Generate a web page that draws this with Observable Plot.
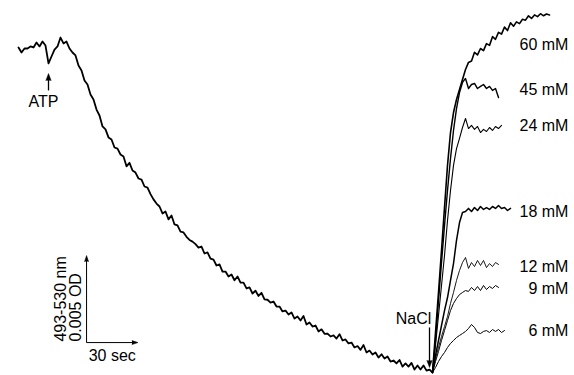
<!DOCTYPE html>
<html>
<head>
<meta charset="utf-8">
<script src="https://cdn.jsdelivr.net/npm/d3@7"></script>
<script src="https://cdn.jsdelivr.net/npm/@observablehq/plot@0.6"></script>
<style>
  html, body { margin: 0; padding: 0; background: #fff; overflow: hidden; }
  #chart svg { display: block; }
</style>
</head>
<body>
<div id="chart"></div>
<script>
// ---- data (time in s, absorbance change in mOD, 493-530 nm) ----
const sampleInterval = 1.75;   // s between samples
const naclTime = 241.5;        // s, NaCl addition (trace minimum)
const atpTime = 17.5;          // s, ATP addition

// trace after ATP until NaCl addition
const baseline = [18.68, 18.39, 18.62, 18.62, 18.74, 18.68, 18.97, 18.74, 19.02, 18.79,
  17.76, 18.16, 18.56, 18.74, 19.25, 18.91, 19.02, 18.62, 18.39, 18.22,
  17.64, 17.36, 16.78, 16.55, 15.98, 15.69, 15.11, 14.77, 14.14, 13.97,
  13.51, 13.39, 12.93, 12.87, 12.53, 12.41, 11.85, 12.05, 11.61, 11.49,
  11.15, 11.09, 10.69, 10.63, 10.25, 9.95, 9.71, 9.54, 9.14, 9.25,
  8.80, 9.02, 8.51, 8.45, 8.10, 8.05, 7.80, 7.62, 7.52, 7.38,
  7.18, 7.24, 6.84, 6.90, 6.55, 6.49, 6.15, 6.21, 5.80, 5.80,
  5.52, 5.63, 5.30, 5.52, 5.17, 5.17, 4.83, 4.89, 4.54, 4.70,
  4.40, 4.58, 4.20, 4.18, 4.02, 4.08, 3.79, 3.79, 3.51, 3.56,
  3.33, 3.45, 3.10, 3.22, 2.99, 3.25, 2.76, 2.87, 2.64, 2.70,
  2.36, 2.48, 2.22, 2.24, 2.07, 2.13, 1.95, 2.20, 1.84, 1.90,
  1.67, 1.72, 1.44, 1.52, 1.30, 1.58, 1.15, 1.26, 1.03, 1.15,
  0.86, 1.05, 0.80, 0.92, 0.63, 0.69, 0.52, 0.72, 0.34, 0.52,
  0.34, 0.55, 0.17, 0.40, 0.17, 0.40, 0.11, 0.17, 0.00];

// recovery after NaCl, per concentration
const concentrations = ["60 mM", "45 mM", "24 mM", "18 mM", "12 mM", "9 mM", "6 mM"];
const recovery60 = [0, 2.30, 4.60, 7.01, 9.48, 11.90, 13.79, 14.94, 15.69, 16.26, 16.84, 17.41, 17.82, 17.90, 18.40, 18.25, 18.62, 18.50, 18.90, 18.80, 19.30, 19.15, 19.55, 19.45, 19.85, 19.65, 20.10, 19.90, 20.15, 20.05, 20.30, 20.25, 20.50, 20.35, 20.55, 20.45, 20.62, 20.50, 20.60, 20.55];
const recovery45 = [0, 1.84, 4.14, 6.32, 8.45, 10.46, 12.30, 13.91, 15.17, 16.09, 16.67, 16.90, 16.32, 16.55, 16.61, 16.32, 16.44, 16.55, 16.32, 16.44, 16.21, 16.32, 15.80];
const recovery24 = [0, 1.55, 3.28, 5.00, 6.72, 8.74, 10.46, 11.90, 12.87, 13.45, 14.08, 14.60, 14.02, 14.20, 13.97, 14.14, 13.79, 13.97, 13.85, 14.08, 13.91, 14.14, 14.02, 14.20];
const recovery18 = [0, 0.98, 1.84, 2.70, 3.56, 4.31, 5.29, 6.26, 7.59, 8.62, 9.20, 9.25, 9.43, 9.25, 9.48, 9.31, 9.54, 9.37, 9.48, 9.37, 9.54, 9.43, 9.60, 9.43, 9.48, 9.31, 9.43];
const recovery12 = [0, 0.80, 1.44, 2.07, 2.64, 3.22, 3.97, 4.60, 5.29, 5.86, 6.32, 6.61, 5.98, 6.32, 6.09, 6.44, 6.15, 6.44, 6.03, 6.26, 6.09, 6.32, 6.21];
const recovery9 = [0, 0.63, 1.21, 1.84, 2.41, 2.99, 3.56, 3.97, 4.25, 4.48, 4.60, 4.71, 4.66, 4.89, 4.71, 4.94, 4.71, 5.00, 4.77, 4.94, 4.83, 5.00, 4.89];
const recovery6 = [0, 0.29, 0.63, 0.92, 1.15, 1.44, 1.67, 1.84, 2.01, 2.13, 2.24, 2.36, 2.53, 2.76, 2.59, 2.30, 2.24, 2.36, 2.41, 2.30, 2.47, 2.36, 2.47, 2.30, 2.41];
const labelOD = [18.85, 16.26, 14.20, 9.25, 6.09, 4.83, 2.41];

// scale bar
const scaleBarTime = 30;   // s
const scaleBarOD = 5;      // mOD = 0.005 OD
const scaleBarTexts = ["493-530 nm", "0.005 OD", "30 sec"];

// ---- layout / styles ----
const recoveries = [recovery60, recovery45, recovery24, recovery18, recovery12, recovery9, recovery6];
const recoveryWidths = [1.6, 1.4, 1.1, 1.5, 0.9, 1.0, 1.0];
const barOrigin = {t: 39.7, v: 1.72};
const labelTime = 320.8;
const font = "'Liberation Sans', Arial, Helvetica, sans-serif";

const marks = [];
marks.push(Plot.line(baseline, {
  x: (d, i) => i * sampleInterval, y: d => d,
  stroke: "#000", strokeWidth: 1.8, strokeLinejoin: "round", strokeLinecap: "round"
}));
recoveries.forEach((r, k) => {
  marks.push(Plot.line(r, {
    x: (d, i) => naclTime + i * sampleInterval, y: d => d,
    stroke: "#000", strokeWidth: recoveryWidths[k], strokeLinejoin: "round"
  }));
});
// concentration labels
marks.push(Plot.text(concentrations, {
  x: () => labelTime, y: (d, i) => labelOD[i], text: d => d,
  textAnchor: "end", lineAnchor: "middle", fontSize: 16, fontFamily: font, fill: "#000"
}));
// ATP annotation
marks.push(Plot.link([0], {x1: atpTime, x2: atpTime, y1: 16.21, y2: 16.85, stroke: "#000", strokeWidth: 1.3}));
marks.push(Plot.vector([0], {x: atpTime, y: 17.18, length: 7, rotate: 0, shape: "spike", anchor: "end", r: 2.6, fill: "#000", stroke: "#000", strokeWidth: 0.5}));
marks.push(Plot.text(["ATP"], {x: 14.6, y: 15.55, text: d => d, lineAnchor: "middle", fontSize: 16, fontFamily: font, fill: "#000"}));
// NaCl annotation
marks.push(Plot.link([0], {x1: 239.75, x2: 239.75, y1: 2.59, y2: 0.65, stroke: "#000", strokeWidth: 1.3}));
marks.push(Plot.vector([0], {x: 239.75, y: 0.29, length: 7, rotate: 180, shape: "spike", anchor: "end", r: 2.6, fill: "#000", stroke: "#000", strokeWidth: 0.5}));
marks.push(Plot.text(["NaCl"], {x: 230.4, y: 3.10, text: d => d, lineAnchor: "middle", fontSize: 16, fontFamily: font, fill: "#000"}));
// scale bar
marks.push(Plot.link([0], {x1: barOrigin.t, x2: barOrigin.t, y1: barOrigin.v, y2: barOrigin.v + scaleBarOD - 0.3, stroke: "#000", strokeWidth: 1}));
marks.push(Plot.vector([0], {x: barOrigin.t, y: barOrigin.v + scaleBarOD, length: 6, rotate: 0, shape: "spike", anchor: "end", r: 2, fill: "#000", stroke: "#000", strokeWidth: 0.5}));
marks.push(Plot.link([0], {x1: barOrigin.t, x2: barOrigin.t + scaleBarTime - 3, y1: barOrigin.v, y2: barOrigin.v, stroke: "#000", strokeWidth: 1}));
marks.push(Plot.vector([0], {x: barOrigin.t + scaleBarTime, y: barOrigin.v, length: 6, rotate: 90, shape: "spike", anchor: "end", r: 2, fill: "#000", stroke: "#000", strokeWidth: 0.5}));
marks.push(Plot.text([scaleBarTexts[0]], {x: barOrigin.t, y: barOrigin.v, text: d => d, dx: -26, dy: -1, rotate: -90, textAnchor: "start", lineAnchor: "middle", fontSize: 16, fontFamily: font, fill: "#000"}));
marks.push(Plot.text([scaleBarTexts[1]], {x: barOrigin.t, y: barOrigin.v, text: d => d, dx: -11, dy: -1, rotate: -90, textAnchor: "start", lineAnchor: "middle", fontSize: 16, fontFamily: font, fill: "#000"}));
marks.push(Plot.text([scaleBarTexts[2]], {x: barOrigin.t + scaleBarTime / 2, y: barOrigin.v, text: d => d, dy: 13, lineAnchor: "middle", fontSize: 16, fontFamily: font, fill: "#000"}));

const chart = Plot.plot({
  width: 574,
  height: 375,
  margin: 0,
  x: {domain: [-10.5, 324.33], axis: null},
  y: {domain: [-0.1724, 21.379], axis: null},
  style: {background: "#fff", fontFamily: font},
  marks
});
document.getElementById("chart").append(chart);
</script>
</body>
</html>
